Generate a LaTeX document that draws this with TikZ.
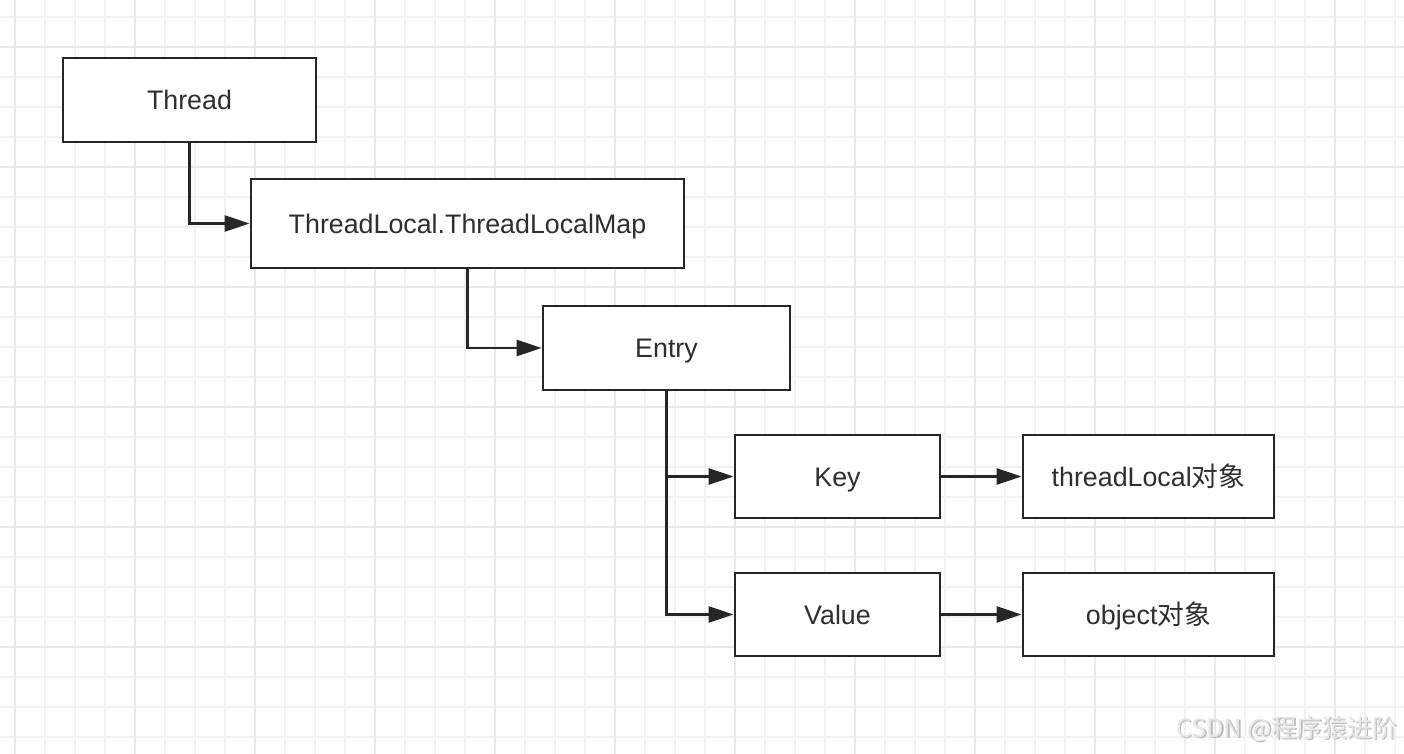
\documentclass[tikz,border=0pt]{standalone}
\usepackage{fontspec}
\setmainfont{Liberation Sans}
\newfontfamily\cjk{Noto Sans CJK SC}
\usetikzlibrary{arrows.meta}
\definecolor{ink}{HTML}{262626}
\definecolor{txt}{HTML}{2E2E2E}
\definecolor{gminor}{HTML}{F1F1F1}
\definecolor{gmajor}{HTML}{E8E8E8}
\definecolor{wmshadow}{HTML}{BDBDBD}
\definecolor{wmtext}{HTML}{E6E6E6}
\begin{document}
\begin{tikzpicture}[x=0.5pt,y=-0.5pt,
  box/.style={draw=ink, line width=1.4pt, fill=white, inner sep=0pt,
    text height=9.6pt, text depth=0pt,
    font=\fontsize{13.4}{16}\selectfont, text=txt},
  link/.style={draw=ink, line width=1.25pt, -{Triangle[length=12.5pt,width=8pt]}},
  minorline/.style={draw=gminor, line width=1pt},
  majorline/.style={draw=gmajor, line width=1.1pt}]
\fill[white] (0,0) rectangle (1404,754);
\useasboundingbox (0,0) rectangle (1404,754);
% grid
\foreach \i in {0,...,46} \draw[minorline] ({15+30*\i},0) -- ({15+30*\i},754);
\foreach \j in {0,...,24} \draw[minorline] (0,{16.7+30*\j}) -- (1404,{16.7+30*\j});
\foreach \i in {0,...,11} \draw[majorline] ({15+120*\i},0) -- ({15+120*\i},754);
\foreach \j in {0,...,5} \draw[majorline] (0,{46.7+120*\j}) -- (1404,{46.7+120*\j});
% nodes
\node[box, minimum width=126.5pt, minimum height=42pt] (thread) at (189.5,100) {Thread};
\node[box, minimum width=216.5pt, minimum height=44.5pt] (tlm) at (467.5,223.5) {ThreadLocal.ThreadLocalMap};
\node[box, minimum width=123.5pt, minimum height=42pt] (entry) at (666.5,348) {Entry};
\node[box, minimum width=102.5pt, minimum height=41.5pt] (key) at (837.5,476.5) {Key};
\node[box, minimum width=102.5pt, minimum height=41.5pt] (value) at (837.5,614.5) {Value};
\node[box, minimum width=125.5pt, minimum height=41.5pt] (tlo) at (1148.5,476.5) {threadLocal{\cjk 对象}};
\node[box, minimum width=125.5pt, minimum height=41.5pt] (obj) at (1148.5,614.5) {object{\cjk 对象}};
% connectors
\draw[link] (thread.south) |- (tlm.west);
\draw[link] (tlm.south) |- (entry.west);
\draw[link] (entry.south) |- (key.west);
\draw[link] (entry.south) |- (value.west);
\draw[link] (key.east) -- (tlo.west);
\draw[link] (value.east) -- (obj.west);
% watermark
\node[anchor=east, inner sep=0pt, text=wmshadow, font=\cjk\fontsize{12.6}{14}\selectfont] (wms) at (1399.5,730.5) {CSDN @程序猿进阶};
\node[anchor=east, inner sep=0pt, text=wmtext, font=\cjk\fontsize{12.6}{14}\selectfont] (wm) at (1398,729) {CSDN @程序猿进阶};
\end{tikzpicture}
\end{document}
